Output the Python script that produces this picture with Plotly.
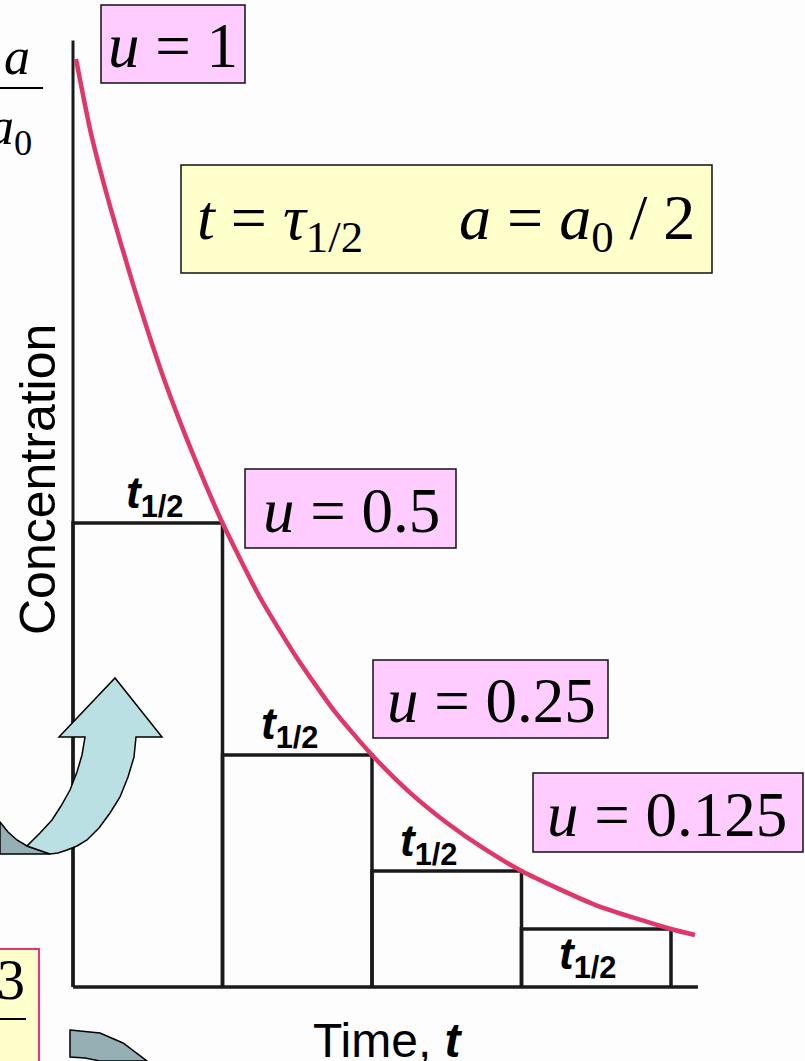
import plotly.graph_objects as go

# ---- data ----
# half-life steps (time in units of t1/2, relative concentration u = a/a0)
step_edges = [0, 1, 2, 3, 4]
step_u = [0.5, 0.25, 0.125, 0.0625]

# decay curve points
curve_t = [0.02, 0.12, 0.25, 0.4, 0.5, 0.62, 0.75, 0.88, 1.0, 1.25, 1.5, 1.75, 2.0,
           2.25, 2.5, 2.75, 3.0, 3.5, 4.0, 4.16]
curve_u = [1.0, 0.92, 0.84, 0.758, 0.707, 0.65, 0.595, 0.544, 0.5, 0.42, 0.354, 0.297, 0.25,
           0.21, 0.177, 0.149, 0.125, 0.088, 0.0625, 0.056]

# box labels
u_labels = ["<i>u</i> = 1", "<i>u</i> = 0.5", "<i>u</i> = 0.25", "<i>u</i> = 0.125"]
half_label = "<b><i>t</i><sub>1/2</sub></b>"

W, H = 805, 1061
X0, Y0, PX_T, PX_U = 73.0, 987.0, 149.5, 928.0


def tx(x):
    return (x - X0) / PX_T


def uy(y):
    return (Y0 - y) / PX_U


def px(x, y):
    return x / W, 1 - y / H


fig = go.Figure()

# axes lines
fig.add_trace(go.Scatter(x=[0, 0], y=[0, 1.02], mode="lines",
                         line=dict(color="#1a1a1a", width=3), hoverinfo="skip", showlegend=False))
fig.add_trace(go.Scatter(x=[0, 4.18], y=[0, 0], mode="lines",
                         line=dict(color="#1a1a1a", width=3.5), hoverinfo="skip", showlegend=False))

# step rectangles
for i, u in enumerate(step_u):
    t0, t1 = step_edges[i], step_edges[i + 1]
    fig.add_trace(go.Scatter(x=[t0, t0, t1, t1], y=[0, u, u, 0], mode="lines",
                             line=dict(color="#1a1a1a", width=3.5), hoverinfo="skip",
                             showlegend=False))

# decay curve
fig.add_trace(go.Scatter(x=curve_t, y=curve_u, mode="lines",
                         line=dict(color="#E0376B", width=4.5, shape="spline", smoothing=0.6),
                         hoverinfo="skip", showlegend=False))

shapes = []
annotations = []


def rect(x0, y0, x1, y1, fill, border="#111111", bw=1.5):
    shapes.append(dict(type="rect", xref="x", yref="y", x0=tx(x0), x1=tx(x1),
                       y0=uy(y1), y1=uy(y0), fillcolor=fill,
                       line=dict(color=border, width=bw), layer="above"))


def text(x, y, s, size, family="Liberation Serif", color="#000000", angle=0,
         xanchor="center", yanchor="middle"):
    annotations.append(dict(x=tx(x), y=uy(y), xref="x", yref="y", text=s, showarrow=False,
                            font=dict(family=family, size=size, color=color),
                            textangle=angle, xanchor=xanchor, yanchor=yanchor))


def poly(points, fill):
    d = ""
    for k, (x, y) in enumerate(points):
        a, b = px(x, y)
        d += ("M" if k == 0 else "L") + f"{a:.5f},{b:.5f} "
    d += "Z"
    shapes.append(dict(type="path", xref="paper", yref="paper", path=d, fillcolor=fill,
                       line=dict(color="#000000", width=1.5), layer="above"))


# pink boxes
rect(101, 5, 245, 83, "#FFCCFF")
rect(245, 469, 456, 548, "#FFCCFF")
rect(373, 660, 608, 738, "#FFCCFF")
rect(533, 773, 803, 852, "#FFCCFF")
# yellow formula box
rect(181, 165, 712, 273, "#FFFFCC")
# bottom-left yellow box (cut)
rect(-5, 949, 39, 1075, "#FFFFCC", border="#F0307A", bw=2)

text(173, 46, u_labels[0], 63)
text(351, 511, u_labels[1], 63)
text(491, 701, u_labels[2], 63)
text(667, 815, u_labels[3], 63)

text(446, 222, "<i>t</i> = <i>τ</i><sub>1/2</sub>\u2003\u2002<i>a</i> = <i>a</i><sub>0</sub> / 2", 64)

# half-life labels
text(154, 496, half_label, 44, family="Liberation Sans")
text(289, 727, half_label, 44, family="Liberation Sans")
text(428, 844, half_label, 44, family="Liberation Sans")
text(587, 957, half_label, 44, family="Liberation Sans")

# axis titles
text(38, 480, "Concentration", 50, family="Liberation Sans", angle=-90)
text(388, 1040, "Time, <b><i>t</i></b>", 48, family="Liberation Sans")

# a/a0 fraction (cut at left)
text(17, 56, "<i>a</i>", 52)
text(10, 130, "<i>a</i><sub>0</sub>", 52)
shapes.append(dict(type="line", xref="paper", yref="paper",
                   x0=px(0, 88)[0], y0=px(0, 88)[1], x1=px(43, 88)[0], y1=px(43, 88)[1],
                   line=dict(color="#000000", width=2), layer="above"))

# "3" fraction (cut)
text(11, 980, "3", 56)
shapes.append(dict(type="line", xref="paper", yref="paper",
                   x0=px(0, 1019)[0], y0=px(0, 1019)[1], x1=px(26, 1019)[0], y1=px(26, 1019)[1],
                   line=dict(color="#000000", width=2), layer="above"))

# curved arrows (decorations)
poly([(0, 822), (8, 832), (17, 840), (27, 846), (50, 854), (0, 854)], "#95B0B5")
poly([(85, 737), (59, 737), (115, 678), (162, 737), (136, 737), (134, 757), (128, 777),
      (120, 797), (110, 813), (99, 828), (87, 840), (77, 846), (67, 850), (58, 853),
      (50, 854), (27, 846), (40, 833), (52, 820), (61, 806), (70, 790), (77, 772),
      (82, 755)], "#BBE0E3")
poly([(70, 1030), (100, 1033), (123, 1043), (147, 1061), (100, 1061), (85, 1058),
      (70, 1057)], "#95B0B5")

fig.update_layout(
    width=W, height=H,
    margin=dict(l=0, r=0, t=0, b=0),
    paper_bgcolor="#FDFDFD", plot_bgcolor="#FDFDFD",
    xaxis=dict(range=[tx(0), tx(W)], visible=False, fixedrange=True),
    yaxis=dict(range=[uy(H), uy(0)], visible=False, fixedrange=True),
    shapes=shapes, annotations=annotations, showlegend=False,
)

fig.write_html("out.html", config={"displayModeBar": False},
               post_script="document.body.style.margin='0';document.body.style.overflow='hidden';")
